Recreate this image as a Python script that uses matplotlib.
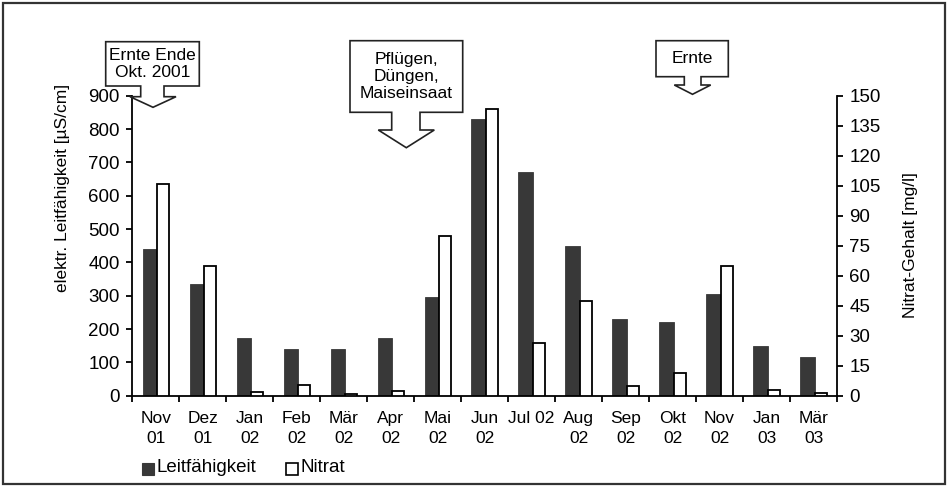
import matplotlib.pyplot as plt
from matplotlib.patches import Polygon, Rectangle
import numpy as np

plt.rcParams['font.family'] = ['Liberation Sans', 'DejaVu Sans']

months = ["Nov\n01", "Dez\n01", "Jan\n02", "Feb\n02", "Mär\n02", "Apr\n02",
          "Mai\n02", "Jun\n02", "Jul 02", "Aug\n02", "Sep\n02", "Okt\n02",
          "Nov\n02", "Jan\n03", "Mär\n03"]
leitfaehigkeit = [440, 335, 172, 140, 140, 172, 296, 830, 670, 450, 231, 220,
                  305, 148, 117]
nitrat = [106, 65, 1.8, 5.4, 1.0, 2.4, 80, 143.5, 26.3, 47.5, 4.8, 11.3, 65,
          2.8, 1.5]

W, H = 949, 486
DARK = '#383838'


def fx(x):
    return x / W


def fy(y):
    return 1 - y / H


fig = plt.figure(figsize=(W / 100, H / 100), dpi=100)
ax = fig.add_axes([fx(132.3), fy(395.7), fx(837) - fx(132.3),
                   fy(95.7) - fy(395.7)])
ax2 = ax.twinx()

x = np.arange(len(months))
ax.bar(x - 0.28, leitfaehigkeit, width=0.31, align='edge', color=DARK,
       edgecolor=DARK, linewidth=0.6, zorder=2)
ax2.bar(x + 0.03, nitrat, width=0.25, align='edge', color='white',
        edgecolor='black', linewidth=1.3, zorder=2)

ax.set_xlim(-0.5, len(months) - 0.5)
ax.set_ylim(0, 900)
ax2.set_ylim(0, 150)
ax.set_yticks(np.arange(0, 901, 100))
ax2.set_yticks(np.arange(0, 151, 15))

# ticks at category boundaries, labels at centers
ax.set_xticks(np.arange(-0.5, len(months), 1.0))
ax.set_xticklabels([])
ax.set_xticks(x, minor=True)
ax.set_xticklabels(months, minor=True, fontsize=12.5, linespacing=1.4,
                   va='top')
ax.tick_params(axis='x', which='minor', length=0, pad=11)
ax.tick_params(axis='x', which='major', direction='out', length=4,
               width=1.3)
ax.tick_params(axis='y', direction='out', length=4, width=1.3, labelsize=13.5,
               pad=5)
ax2.tick_params(axis='y', direction='out', length=4, width=1.3,
                labelsize=13.5, pad=5)

for a in (ax, ax2):
    a.spines['top'].set_visible(False)
    for s in ('left', 'right', 'bottom'):
        a.spines[s].set_linewidth(1.3)
ax.spines['right'].set_visible(False)
ax2.spines['left'].set_visible(False)
ax2.spines['bottom'].set_visible(False)

fig.text(fx(63), fy(188), "elektr. Leitfähigkeit [µS/cm]", rotation=90,
         ha='center', va='center', fontsize=12.5)
fig.text(fx(910), fy(245), "Nitrat-Gehalt [mg/l]", rotation=90,
         ha='center', va='center', fontsize=12.5)

# legend
fig.patches.append(Rectangle((fx(142), fy(475)), fx(12), fy(0) - fy(12),
                             transform=fig.transFigure, facecolor=DARK,
                             edgecolor=DARK, lw=0.8))
fig.text(fx(157), fy(468), "Leitfähigkeit", ha='left', va='center',
         fontsize=13.5)
fig.patches.append(Rectangle((fx(286), fy(475)), fx(12), fy(0) - fy(12),
                             transform=fig.transFigure, facecolor='white',
                             edgecolor='black', lw=1.2))
fig.text(fx(300), fy(468), "Nitrat", ha='left', va='center', fontsize=13.5)


# callout boxes with arrow (pixel layout)
def callout(left, right, top, bottom, stem_l, stem_r, wing_l, wing_r,
            stem_bot, tip_y, text):
    tip_x = (wing_l + wing_r) / 2
    pts = [(left, top), (right, top), (right, bottom), (stem_r, bottom),
           (stem_r, stem_bot), (wing_r, stem_bot), (tip_x, tip_y),
           (wing_l, stem_bot), (stem_l, stem_bot), (stem_l, bottom),
           (left, bottom)]
    poly = Polygon([(fx(px), fy(py)) for px, py in pts], closed=True,
                   transform=fig.transFigure, facecolor='white',
                   edgecolor='#222222', lw=1.2, zorder=5)
    fig.patches.append(poly)
    fig.text(fx((left + right) / 2), fy((top + bottom) / 2), text,
             ha='center', va='center', fontsize=12.5, linespacing=1.15,
             zorder=6)


callout(105.7, 199.3, 41.7, 86, 140.7, 164, 130, 176, 96.7, 107.3,
        "Ernte Ende\nOkt. 2001")
callout(350, 462.7, 40.7, 112.3, 391.7, 420, 378.3, 434.3, 130, 147.7,
        "Pflügen,\nDüngen,\nMaiseinsaat")
callout(656, 728.3, 40.7, 76.7, 684.3, 701, 674.3, 710.7, 85, 94.3,
        "Ernte")

# outer frame
fig.patches.append(Rectangle((fx(3), fy(484)), fx(942), fy(0) - fy(481),
                             transform=fig.transFigure, facecolor='none',
                             edgecolor='#333333', lw=1.6))

fig.savefig("out.png", dpi=100)
